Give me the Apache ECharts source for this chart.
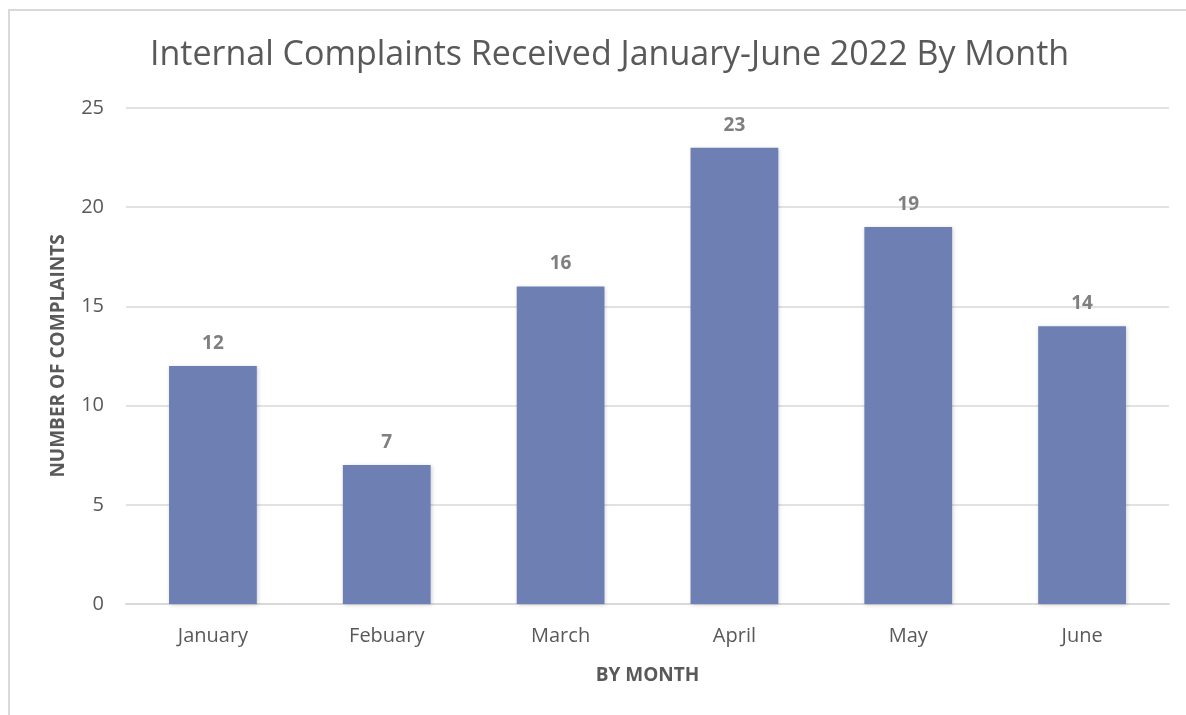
<!DOCTYPE html>
<html>
<head>
<meta charset="utf-8">
<script src="https://cdn.jsdelivr.net/npm/echarts@6/dist/echarts.min.js"></script>
<style>
  html, body { margin: 0; padding: 0; background: #fff; overflow: hidden; }
  #frame {
    position: absolute; left: 8px; top: 9px;
    width: 1200px; height: 720px;
    border-top: 2px solid #d9d9d9; border-left: 2px solid #d9d9d9;
  }
  #chart { position: absolute; left: 0; top: 0; width: 1186px; height: 715px; }
</style>
</head>
<body>
<div id="frame"></div>
<div id="chart"></div>
<script>
// months as written on the chart
const months = ['January', 'Febuary', 'March', 'April', 'May', 'June'];
const complaints = [12, 7, 16, 23, 19, 14];
const yTicks = [0, 5, 10, 15, 20, 25];

const chart = echarts.init(document.getElementById('chart'));
const option = {
  animation: false,
  title: {
    text: 'Internal Complaints Received January-June 2022 By Month',
    left: 145,
    top: 33,
    textStyle: {
      fontFamily: 'Open Sans',
      fontSize: 34,
      fontWeight: 'normal',
      color: '#595959'
    }
  },
  grid: {
    left: 126,
    right: 17,
    top: 108,
    bottom: 111
  },
  xAxis: {
    type: 'category',
    data: months,
    name: 'BY MONTH',
    nameLocation: 'middle',
    nameGap: 62,
    nameTextStyle: {
      fontFamily: 'Open Sans',
      fontSize: 19,
      fontWeight: 'bold',
      color: '#595959'
    },
    axisLine: { lineStyle: { color: '#d9d9d9', width: 2 } },
    axisTick: { show: false },
    axisLabel: {
      margin: 22,
      fontFamily: 'Open Sans',
      fontSize: 20,
      color: '#595959'
    }
  },
  yAxis: {
    type: 'value',
    min: yTicks[0],
    max: yTicks[yTicks.length - 1],
    interval: yTicks[1] - yTicks[0],
    name: 'NUMBER OF COMPLAINTS',
    nameLocation: 'middle',
    nameGap: 58,
    nameTextStyle: {
      fontFamily: 'Open Sans',
      fontSize: 19,
      fontWeight: 'bold',
      color: '#595959'
    },
    axisLine: { show: false },
    axisTick: { show: false },
    splitLine: { lineStyle: { color: '#d9d9d9', width: 1.5 } },
    axisLabel: {
      margin: 22,
      fontFamily: 'Open Sans',
      fontSize: 20,
      color: '#595959'
    }
  },
  series: [
    {
      type: 'bar',
      data: complaints,
      barWidth: '50.5%',
      itemStyle: {
        color: '#6d7fb3',
        shadowColor: 'rgba(0,0,0,0.18)',
        shadowBlur: 4,
        shadowOffsetX: 1,
        shadowOffsetY: 1
      },
      label: {
        show: true,
        position: 'top',
        distance: 13,
        fontFamily: 'Open Sans',
        fontSize: 19,
        fontWeight: 'bold',
        color: '#7f7f7f'
      }
    }
  ]
};
chart.setOption(option);
</script>
</body>
</html>
